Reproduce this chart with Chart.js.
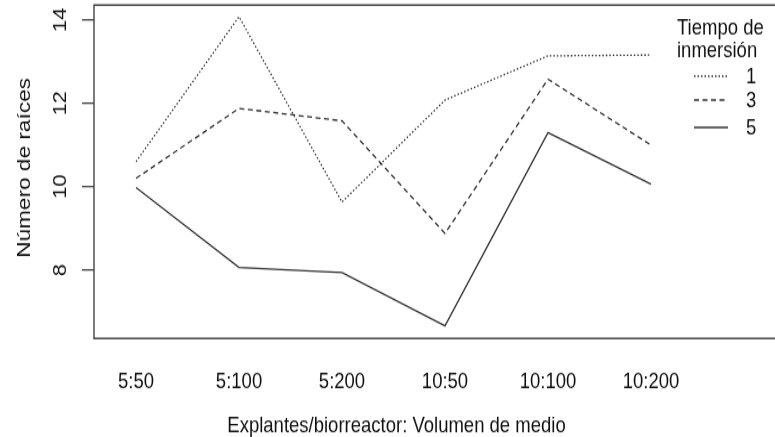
<!DOCTYPE html>
<html>
<head>
<meta charset="utf-8">
<script src="https://cdn.jsdelivr.net/npm/chart.js@4"></script>
<style>
  html, body { margin: 0; padding: 0; background: #fff; overflow: hidden; }
  #page { width: 775px; height: 437px; position: relative; overflow: hidden; }
  #wrap { position: absolute; left: 0; top: 0; width: 775px; height: 367px; transform: scaleY(1.1907); transform-origin: 0 0; }
  canvas { display: block; }
</style>
</head>
<body>
<div id="page"><div id="wrap"><canvas id="chart" width="775" height="367"></canvas></div></div>
<script>
// categories and series
const categories = ['5:50', '5:100', '5:200', '10:50', '10:100', '10:200'];
const yTicks = [8, 10, 12, 14];
const seriesNames = ['1', '3', '5'];
const tiempo1 = [10.6, 14.08, 9.63, 12.08, 13.14, 13.16];
const tiempo3 = [10.2, 11.88, 11.58, 8.88, 12.58, 11.0];
const tiempo5 = [9.98, 8.06, 7.94, 6.66, 11.3, 10.06];

const FONT = 'Liberation Sans, Arial, sans-serif';
const INK = '#111';
const LINE = '#333';

const toPoints = vals => vals.map((v, i) => ({ x: i + 1, y: v }));

// frame, rotated y labels, axis titles and the legend
const decor = {
  id: 'decor',
  afterDraw(chart) {
    const { ctx, chartArea: a, scales } = chart;
    ctx.save();
    ctx.strokeStyle = '#444';
    ctx.lineWidth = 1.4;
    ctx.beginPath();
    ctx.moveTo(775, a.top); ctx.lineTo(a.left, a.top);
    ctx.lineTo(a.left, a.bottom); ctx.lineTo(775, a.bottom);
    ctx.stroke();

    ctx.fillStyle = INK;
    ctx.font = '18.5px ' + FONT;
    ctx.textAlign = 'center';
    ctx.textBaseline = 'middle';
    yTicks.forEach(v => {
      ctx.save();
      ctx.translate(61, scales.y.getPixelForValue(v));
      ctx.rotate(-Math.PI / 2);
      ctx.fillText(String(v), 0, 0);
      ctx.restore();
    });

    ctx.save();
    ctx.translate(25, 141);
    ctx.rotate(-Math.PI / 2);
    ctx.font = '19px ' + FONT;
    ctx.fillText('Número de raíces', 0, 0);
    ctx.restore();

    // x labels placed on the library's x scale
    categories.forEach((c, i) => {
      ctx.fillText(c, scales.x.getPixelForValue(i + 1), 321);
    });
    ctx.fillText('Explantes/biorreactor: Volumen de medio', 396.5, 358);

    // legend
    ctx.textAlign = 'left';
    ctx.fillText('Tiempo de', 677, 24.4);
    ctx.fillText('inmersión', 677, 43);
    const rows = [64, 84, 107];
    chart.data.datasets.forEach((ds, i) => {
      ctx.strokeStyle = LINE;
      ctx.lineWidth = ds.borderWidth;
      ctx.setLineDash(ds.borderDash || []);
      ctx.beginPath();
      ctx.moveTo(694, rows[i]);
      ctx.lineTo(728, rows[i]);
      ctx.stroke();
      ctx.setLineDash([]);
      ctx.fillText(ds.label, 746, rows[i] + 1);
    });
    ctx.restore();
  }
};

new Chart(document.getElementById('chart'), {
  type: 'line',
  data: {
    datasets: [
      { label: seriesNames[0], data: toPoints(tiempo1), borderColor: LINE, borderWidth: 1.3, borderDash: [1.5, 2] },
      { label: seriesNames[1], data: toPoints(tiempo3), borderColor: LINE, borderWidth: 1.3, borderDash: [5, 3.5] },
      { label: seriesNames[2], data: toPoints(tiempo5), borderColor: LINE, borderWidth: 1.3 }
    ]
  },
  options: {
    responsive: false,
    animation: false,
    layout: { padding: { top: 4.2, right: 0, left: 0, bottom: 0 } },
    elements: { point: { radius: 0 }, line: { tension: 0 } },
    plugins: { legend: { display: false }, tooltip: { enabled: false } },
    scales: {
      x: {
        type: 'linear',
        min: 0.592,
        max: 7.204,
        afterBuildTicks: s => { s.ticks = categories.map((c, i) => ({ value: i + 1 })); },
        afterFit: s => { s.height = 82.7; },
        grid: { display: false },
        border: { display: false },
        ticks: { display: false }
      },
      y: {
        min: 6.356,
        max: 14.36,
        afterBuildTicks: s => { s.ticks = yTicks.map(v => ({ value: v })); },
        afterFit: s => { s.width = 94; },
        grid: { drawOnChartArea: false, drawTicks: true, tickLength: 12, color: '#444', lineWidth: 1.3 },
        border: { display: false },
        ticks: { display: false }
      }
    }
  },
  plugins: [decor]
});
</script>
</body>
</html>
